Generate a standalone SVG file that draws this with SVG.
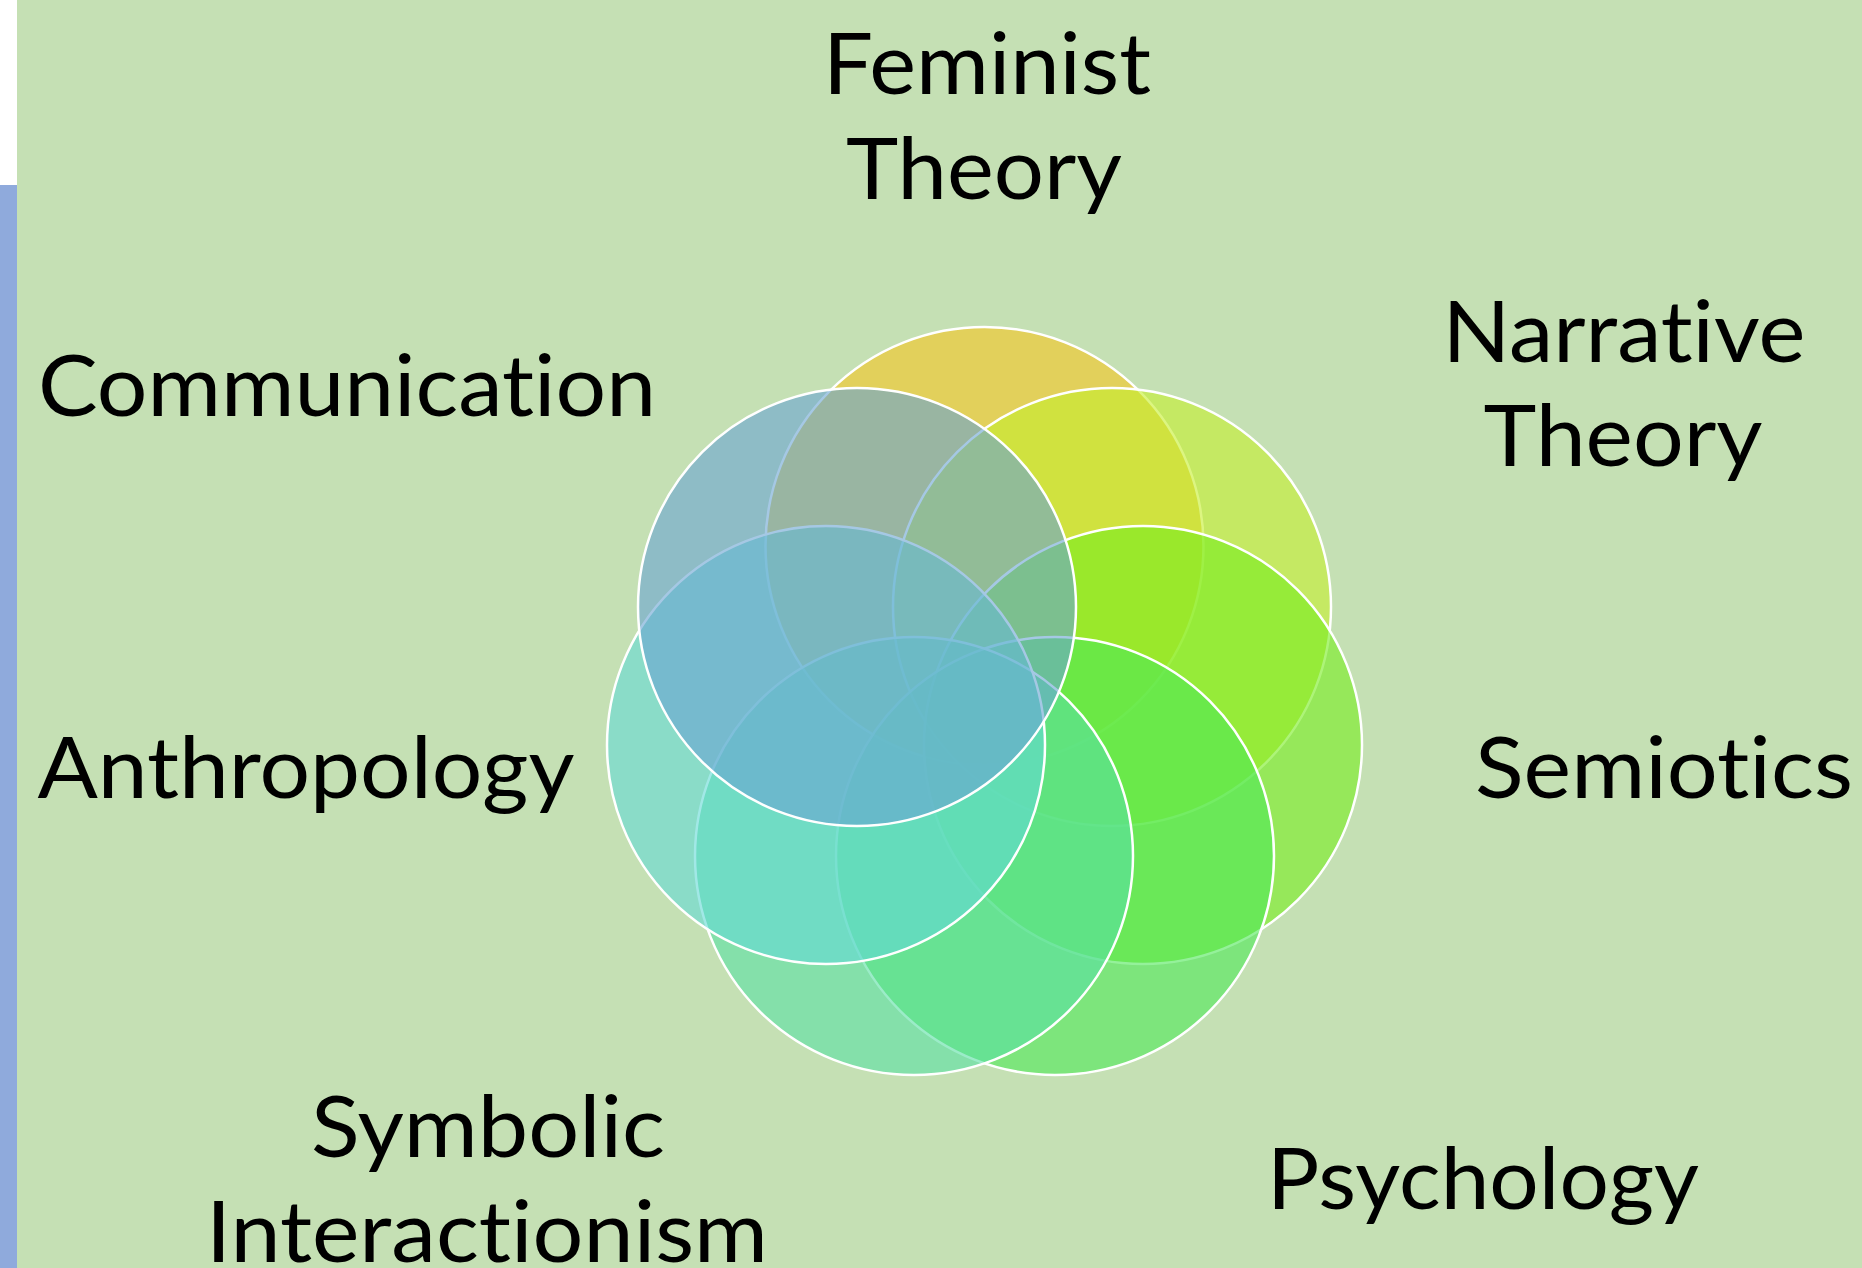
<svg xmlns="http://www.w3.org/2000/svg" width="1862" height="1268" viewBox="0 0 1862 1268">
  <style>
    .circ { stroke: #ffffff; stroke-width: 2.5; fill-opacity: 0.6; }
    .lbl { font-family: Lato, "Open Sans", "Liberation Sans", sans-serif; font-size: 86px; fill: #000000; text-anchor: middle; font-variant-ligatures: none; font-feature-settings: "liga" 0, "clig" 0, "dlig" 0; }
  </style>
  <rect x="0" y="0" width="1862" height="1268" fill="#c5e0b4"/>
  <rect x="0" y="0" width="17" height="185" fill="#ffffff"/>
  <rect x="0" y="185" width="17" height="1083" fill="#8faadc"/>

  <g id="connectors"/>

  <g id="node-feminist">
    <circle class="circ" cx="984.5" cy="546" r="219" fill="#f5c420"/>
  </g>
  <g id="node-narrative">
    <circle class="circ" cx="1112" cy="607" r="219" fill="#c5ef2d"/>
  </g>
  <g id="node-semiotics">
    <circle class="circ" cx="1143" cy="745" r="219" fill="#77ed1e"/>
  </g>
  <g id="node-psychology">
    <circle class="circ" cx="1055" cy="856" r="219" fill="#4de757"/>
  </g>
  <g id="node-symbolic">
    <circle class="circ" cx="914" cy="856" r="219" fill="#59e0a3"/>
  </g>
  <g id="node-anthropology">
    <circle class="circ" cx="826" cy="745" r="219" fill="#63d9d5"/>
  </g>
  <g id="node-communication">
    <circle class="circ" cx="857" cy="607" r="219" fill="#69a4d2"/>
  </g>

  <g id="labels">
    <text class="lbl" x="987" y="94" textLength="328" lengthAdjust="spacingAndGlyphs">Feminist</text>
    <text class="lbl" x="984" y="199" textLength="276" lengthAdjust="spacingAndGlyphs">Theory</text>
    <text class="lbl" x="1624" y="362" textLength="363" lengthAdjust="spacingAndGlyphs">Narrative</text>
    <text class="lbl" x="1623" y="466" textLength="279" lengthAdjust="spacingAndGlyphs">Theory</text>
    <text class="lbl" x="347" y="416" textLength="618" lengthAdjust="spacingAndGlyphs">Communication</text>
    <text class="lbl" x="306" y="798" textLength="537" lengthAdjust="spacingAndGlyphs">Anthropology</text>
    <text class="lbl" x="1664" y="798" textLength="378" lengthAdjust="spacingAndGlyphs">Semiotics</text>
    <text class="lbl" x="1483" y="1209" textLength="432" lengthAdjust="spacingAndGlyphs">Psychology</text>
    <text class="lbl" x="488" y="1157" textLength="354" lengthAdjust="spacingAndGlyphs">Symbolic</text>
    <text class="lbl" x="487" y="1262" textLength="562" lengthAdjust="spacingAndGlyphs">Interactionism</text>
  </g>
</svg>
